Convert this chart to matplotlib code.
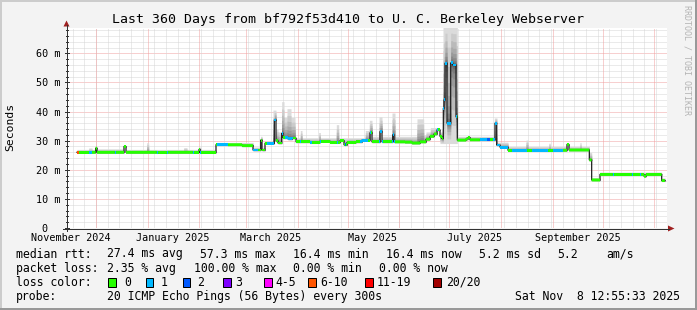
import numpy as np
import matplotlib
matplotlib.use('Agg')
import matplotlib.pyplot as plt
from matplotlib.patches import Polygon, Rectangle
from matplotlib.lines import Line2D

W, H = 697, 310
MONO = 'DejaVu Sans Mono'

t_end = np.datetime64('2025-11-08T12:55:33')
t_start = t_end - np.timedelta64(360, 'D')
y_top = 68.7  # ms

nan = np.nan
# median rtt (ms) - step function, value holds from day to next day (days since start)
med_day = [0, 6.0, 17.2, 18.0, 34.2, 35.4, 79.2, 79.8, 89.4, 105.0,
           111.6, 116.2, 117.0, 118.8, 124.4, 125.4, 126.6, 128.8, 129.6, 132.6,
           135.0, 137.4, 145.8, 151.8, 157.8, 163.8, 166.2, 168.0, 173.4, 177.0,
           181.8, 183.0, 187.8, 189.0, 195.4, 196.2, 202.8, 207.0, 211.8, 215.4,
           217.8, 220.2, 222.0, 223.8, 224.8, 225.8, 226.2, 226.8, 228.0, 230.2,
           231.4, 233.4, 234.2, 239.4, 240.6, 241.8, 256.8, 257.8, 259.8, 264.6,
           300.0, 301.2, 313.4, 314.8, 319.8, 346.2, 347.4, 356.8, 358.8]
med_ms = [nan, 26.0, 27.4, 26.0, 28.0, 26.0, 27.0, 26.0, 28.6, 28.3,
          26.8, 30.2, 26.8, 29.1, 37.1, 29.9, 29.2, 32.5, 31.0, 30.6,
          30.9, 29.6, 29.4, 29.8, 29.4, 30.0, 28.6, 29.4, 29.6, 30.2,
          32.7, 29.6, 33.1, 29.6, 32.0, 29.6, 29.5, 29.2, 29.6, 30.5,
          31.5, 32.3, 33.7, 31.5, 30.8, 41.1, 44.0, 56.6, 36.0, 56.7,
          56.0, 38.2, 30.2, 30.6, 31.1, 30.3, 36.0, 28.5, 27.8, 26.7,
          28.7, 26.8, 23.4, 16.5, 18.4, 17.8, 18.4, 16.3, nan]

# lost pings out of 20
loss_day = [0, 6.0, 7.2, 13.2, 15.0, 28.8, 29.4, 54.0, 54.6, 60.0, 60.6, 75.6, 76.2,
            79.8, 80.4, 89.8, 96.6, 111.6, 114.6, 120.0, 125.4, 129.0, 129.6, 130.8,
            135.6, 139.8, 140.4, 145.8, 147.0, 151.8, 152.4, 162.0, 162.6, 166.8,
            167.4, 175.8, 180.6, 181.8, 182.4, 187.2, 189.6, 195.0, 196.8, 222.0,
            222.6, 225.6, 234.0, 247.8, 252.0, 253.8, 255.6, 264.6, 267.0, 276.0,
            279.0, 288.6, 291.6, 297.6, 327.6, 328.2, 339.0, 339.6, 343.8, 344.4]
loss_n = [0, 8, 0, 1, 0, 1, 0, 1, 0, 1, 0, 1, 0,
          1, 0, 1, 0, 1, 0, 1, 0, 1, 0, 1,
          0, 1, 0, 1, 0, 1, 0, 1, 0, 2,
          0, 1, 0, 1, 0, 1, 0, 1, 0, 1,
          0, 1, 0, 1, 2, 0, 1, 0, 1, 0,
          1, 0, 1, 0, 1, 0, 1, 0, 1, 0]

# slowest ping (top of the smoke), ms
top_day = [0, 6.0, 13.0, 15.0, 17.2, 18.0, 34.2, 35.4, 47.8, 49.0,
           70.0, 72.0, 79.2, 80.4, 89.4, 111.6, 116.2, 117.0, 118.8, 123.6,
           125.4, 126.6, 128.8, 130.2, 132.0, 134.4, 136.8, 140.0, 141.0, 151.0,
           152.0, 161.6, 163.0, 179.0, 181.4, 183.0, 187.2, 189.0, 195.0, 196.8,
           210.0, 214.0, 215.4, 218.0, 222.6, 224.8, 225.6, 234.2, 256.4, 258.0,
           264.6, 275.4, 276.6, 289.0, 290.0, 307.8, 308.4, 313.4, 314.8, 319.8,
           356.8, 358.8]
top_ms = [nan, 27.0, 27.5, 27.0, 28.0, 27.2, 28.2, 27.0, 29.3, 27.0,
          27.6, 27.0, 27.8, 27.0, 29.4, 27.8, 31.5, 27.8, 29.8, 40.5,
          34.0, 33.0, 43.4, 38.0, 41.0, 38.0, 31.0, 33.5, 31.0, 32.8,
          31.0, 35.5, 31.0, 33.5, 37.0, 31.5, 38.2, 31.5, 39.5, 31.5,
          37.5, 32.0, 33.0, 34.5, 33.0, 34.0, 70.0, 31.5, 37.8, 29.5,
          28.0, 30.2, 28.0, 29.1, 28.0, 29.4, 28.0, 26.0, 17.3, 19.2,
          17.2, nan]

# fastest ping where it is well below the median
low_day = [0, 223.8, 234.2]
low_ms = [nan, 29.0, nan]

loss_labels = ['0', '1', '2', '3', '4-5', '6-10', '11-19', '20/20']
loss_colors = ['#26ff00', '#00b8ff', '#0059ff', '#7e00ff', '#ff00ff', '#ff5500', '#ff0000', '#a10000']
loss_upper = [0, 1, 2, 3, 5, 10, 19, 20]

stat_lines = [
    ['median rtt:', '27.4 ms avg', '57.3 ms max', '16.4 ms min', '16.4 ms now', '5.2 ms sd', '5.2', 'am/s'],
    ['packet loss:', '2.35 % avg', '100.00 % max', '0.00 % min', '0.00 % now'],
]
stat_x = [
    [16, 107.3, 200.5, 293.3, 386, 479, 557, 606],
    [16, 107.3, 194, 293.3, 379.3],
]
probe_text = '20 ICMP Echo Pings (56 Bytes) every 300s'
stamp_text = 'Sat Nov  8 12:55:33 2025'


def fx(x):
    return x / W


def fy(y):
    return 1 - y / H


def step_eval(bx, by, grid):
    bx = np.asarray(bx, float)
    by = np.asarray(by, float)
    i = np.searchsorted(bx, grid, side='right') - 1
    return by[np.clip(i, 0, len(by) - 1)]


def days(d):
    return (np.datetime64(d) - t_start) / np.timedelta64(1, 'D')


grid = np.arange(0, 360.001, 0.05)
med = step_eval(med_day, med_ms, grid)
loss = step_eval(loss_day, loss_n, grid)
top = np.maximum(step_eval(top_day, top_ms, grid), med)
low = step_eval(low_day, low_ms, grid)
low = np.where(np.isnan(low), med - 0.4, np.minimum(low, med - 0.4))

fig = plt.figure(figsize=(W / 100, H / 100), dpi=100)
fig.patch.set_facecolor('#f3f3f3')
ax = fig.add_axes([fx(67), fy(228), 600 / W, 200 / H])
ax.set_facecolor('white')
ax.set_xlim(0, 360)
ax.set_ylim(0, y_top)
for s in ax.spines.values():
    s.set_visible(False)

# grid
dash = (0, (1, 1))
for v in np.arange(2, y_top, 2):
    major = int(round(v)) % 10 == 0
    ax.axhline(v, color='#f0a0a0' if major else '#d6d6d6', lw=0.72, ls=dash, zorder=0.5)
sundays = np.arange(np.datetime64('2024-11-17'), np.datetime64('2025-11-09'), 7)
for s in sundays:
    ax.axvline(days(s), color='#d6d6d6', lw=0.72, ls=dash, zorder=0.5)
months = np.arange(np.datetime64('2024-12'), np.datetime64('2025-12'), 1).astype('datetime64[D]')
for m in months:
    ax.axvline(days(m), color='#f0a0a0', lw=0.72, ls=dash, zorder=0.6)

# smoke
n_layers = 10
for k in range(n_layers):
    f = ((n_layers - k) / n_layers) ** 2.5
    g = 0.86 - 0.58 * k / (n_layers - 1)
    ax.fill_between(grid, med - (med - low) * f, med + (top - med) * f, step='post',
                    color=(g, g, g), lw=0, zorder=1)

# median line and loss bands
ax.plot(grid, med, drawstyle='steps-post', color='#202020', lw=0.9, zorder=2)
band = 0.5
lower = 0
for c, up in zip(loss_colors, loss_upper):
    mask = (loss >= lower) & (loss <= up) & ~np.isnan(med)
    lower = up + 1
    if mask.any():
        ax.fill_between(grid, med - band, med + band, where=mask, step='post',
                        color=c, lw=0, zorder=3)

# ticks and labels
lab_months = np.arange(np.datetime64('2024-11'), np.datetime64('2025-11'), 2).astype('datetime64[D]')
lab_pos = [days(m) + 15 for m in lab_months]
lab_names = ['November 2024', 'January 2025', 'March 2025', 'May 2025', 'July 2025', 'September 2025']
ax.set_xticks(lab_pos)
ax.set_xticklabels(lab_names, fontfamily=MONO, fontsize=7.25)
ax.set_yticks([0, 10, 20, 30, 40, 50, 60])
ax.set_yticklabels(['0  ', '10 m', '20 m', '30 m', '40 m', '50 m', '60 m'], fontfamily=MONO, fontsize=7.25)
ax.tick_params(axis='x', length=0, pad=3.3)
ax.tick_params(axis='y', length=0, pad=4.5)

px_y = 1 / 200
for m in months:
    ax.plot([days(m)] * 2, [-3 * px_y, 2 * px_y], color='#333333', lw=0.72, clip_on=False, zorder=4)
for s in sundays:
    ax.plot([days(s)] * 2, [-1 * px_y, 1 * px_y], color='#333333', lw=0.72, clip_on=False, zorder=4)
px_x = 360 / 600
for v in np.arange(0, y_top, 2):
    ln = 2 if int(round(v)) % 10 == 0 else 1
    ax.plot([-ln * px_x, ln * px_x], [v, v], color='#333333', lw=0.72, clip_on=False, zorder=4)

# axes lines and arrows
fig.add_artist(Line2D([fx(63), fx(669)], [fy(228.5)] * 2, color='#333333', lw=0.72))
fig.add_artist(Line2D([fx(66.5)] * 2, [fy(231), fy(25)], color='#333333', lw=0.72))
fig.add_artist(Polygon([[fx(63.5), fy(26.5)], [fx(69.5), fy(26.5)], [fx(66.5), fy(20.5)]],
                       closed=True, color='#a02020', lw=0))
fig.add_artist(Polygon([[fx(668), fy(225.5)], [fx(668), fy(231.5)], [fx(674.5), fy(228.5)]],
                       closed=True, color='#a02020', lw=0))

# texts
fig.text(fx(348), fy(19), 'Last 360 Days from bf792f53d410 to U. C. Berkeley Webserver',
         fontfamily=MONO, fontsize=9.55, ha='center', va='center', color='black')
fig.text(fx(10), fy(127), 'Seconds', rotation=90, fontfamily=MONO, fontsize=8.2,
         ha='center', va='center')
fig.text(fx(687.5), fy(60), 'RRDTOOL / TOBI OETIKER', rotation=270, fontfamily=MONO,
         fontsize=6, ha='center', va='center', color='#b4b4b4')

ly = [254, 268.3, 282, 296.3]
for row, (parts, xs) in enumerate(zip(stat_lines, stat_x)):
    for p, x in zip(parts, xs):
        fig.text(fx(x), fy(ly[row]), p, fontfamily=MONO, fontsize=8.3, ha='left', va='center')

fig.text(fx(16), fy(ly[2]), 'loss color:', fontfamily=MONO, fontsize=8.3, ha='left', va='center')
box_x = [108, 145.7, 182.7, 223.3, 264, 308.3, 365, 433.3]
lab_x = [124, 161, 197, 235, 275, 320, 377, 445.7]
for bx, tx, c, lab in zip(box_x, lab_x, loss_colors, loss_labels):
    fig.add_artist(Rectangle((fx(bx), fy(ly[2] + 4.5)), 7.5 / W, 9 / H, facecolor=c,
                             edgecolor='black', lw=0.72))
    fig.text(fx(tx), fy(ly[2]), lab, fontfamily=MONO, fontsize=8.3, ha='left', va='center')

fig.text(fx(16), fy(ly[3]), 'probe:', fontfamily=MONO, fontsize=8.3, ha='left', va='center')
fig.text(fx(107.3), fy(ly[3]), probe_text, fontfamily=MONO, fontsize=8.3, ha='left', va='center')
fig.text(fx(680), fy(ly[3]), stamp_text, fontfamily=MONO, fontsize=8.3, ha='right', va='center')

# 3d border
fig.add_artist(Line2D([0, 1], [fy(1), fy(1)], color='#cccccc', lw=1.44))
fig.add_artist(Line2D([fx(1), fx(1)], [0, 1], color='#cccccc', lw=1.44))
fig.add_artist(Line2D([0, 1], [fy(309), fy(309)], color='#999999', lw=1.44))
fig.add_artist(Line2D([fx(696), fx(696)], [0, 1], color='#999999', lw=1.44))

fig.savefig('out.png', dpi=100, facecolor=fig.get_facecolor())
